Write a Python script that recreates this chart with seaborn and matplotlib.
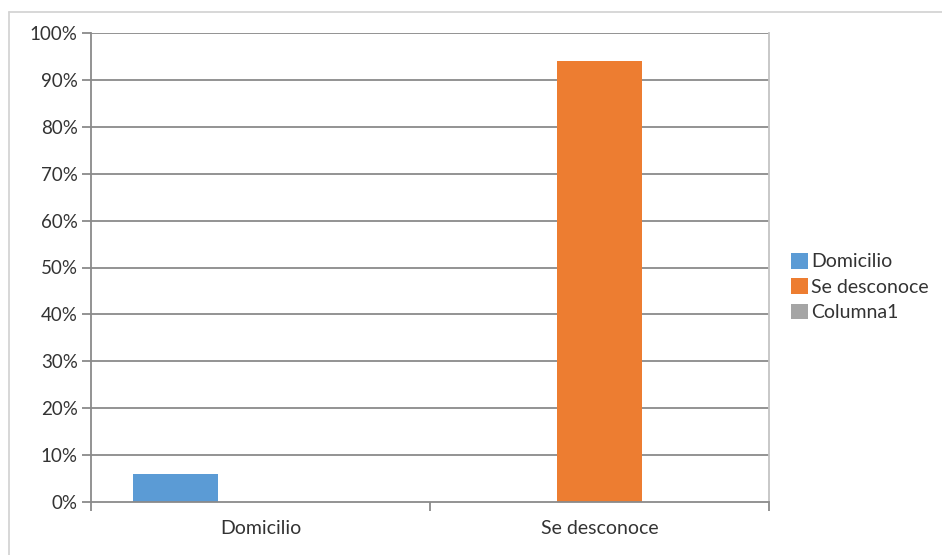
import matplotlib
matplotlib.use("Agg")
import matplotlib.pyplot as plt
from matplotlib.patches import Patch
from matplotlib.lines import Line2D
import seaborn as sns
import pandas as pd

# Chart data
categories = ["Domicilio", "Se desconoce"]
series = ["Domicilio", "Se desconoce", "Columna1"]
domicilio = [6, 0]
se_desconoce = [0, 94]
columna1 = [0, 0]
y_ticks = [0, 10, 20, 30, 40, 50, 60, 70, 80, 90, 100]
colors = ["#5B9BD5", "#ED7D31", "#A5A5A5"]

rows = []
for name, vals in zip(series, [domicilio, se_desconoce, columna1]):
    for cat, v in zip(categories, vals):
        rows.append({"Categoria": cat, "Serie": name, "Valor": v})
df = pd.DataFrame(rows)

sns.set_theme(style="white")
plt.rcParams["font.family"] = ["Lato", "DejaVu Sans"]

fig = plt.figure(figsize=(9.42, 5.55), dpi=100)
ax = fig.add_axes([91 / 942, 1 - 502 / 555, (769 - 91) / 942, (502 - 33) / 555])

sns.barplot(data=df, x="Categoria", y="Valor", hue="Serie",
            order=categories, hue_order=series, palette=colors,
            width=0.752, linewidth=0, saturation=1, ax=ax, legend=False)

ax.set_xlim(-0.5, len(categories) - 0.5)
ax.set_ylim(0, 100)
ax.set_yticks(y_ticks)
ax.set_yticklabels([f"{t}%" for t in y_ticks])
ax.set_xlabel("")
ax.set_ylabel("")

# Horizontal gridlines
for t in y_ticks[1:]:
    ax.axhline(t, color="#8a8a8a", lw=1.3, zorder=0.5)
ax.set_axisbelow(True)

# Spines
ax.spines["top"].set_visible(False)
ax.spines["right"].set_color("#c4c4c4")
ax.spines["right"].set_linewidth(1.3)
ax.spines["left"].set_color("#8a8a8a")
ax.spines["left"].set_linewidth(1.3)
ax.spines["bottom"].set_color("#8a8a8a")
ax.spines["bottom"].set_linewidth(1.3)

# Tick marks: y ticks outward, x ticks at category boundaries
ax.tick_params(axis="y", which="major", length=6.5, width=1.3, color="#8a8a8a",
               pad=3, labelsize=13.5, labelcolor="#333333", left=True)
ax.set_xticks(range(len(categories)))
ax.set_xticklabels(categories)
ax.tick_params(axis="x", which="major", length=0, pad=13, labelsize=14, labelcolor="#333333")
ax.set_xticks([i - 0.5 for i in range(len(categories) + 1)], minor=True)
ax.tick_params(axis="x", which="minor", length=6.5, width=1.3, color="#8a8a8a", bottom=True)

# Legend
handles = [Patch(facecolor=c, edgecolor="none") for c in colors]
fig.legend(handles, series, loc="center left", bbox_to_anchor=(791 / 942, 1 - 287 / 555),
           frameon=False, fontsize=14, handlelength=0.85, handleheight=0.85,
           handletextpad=0.2, labelspacing=0.4, borderaxespad=0, borderpad=0,
           labelcolor="#333333")

# Outer chart frame
fig.add_artist(Line2D([9 / 942, 1], [1 - 12 / 555, 1 - 12 / 555], color="#d4d4d4", lw=1.3,
                      transform=fig.transFigure))
fig.add_artist(Line2D([9 / 942, 9 / 942], [0, 1 - 12 / 555], color="#d4d4d4", lw=1.3,
                      transform=fig.transFigure))

fig.savefig("out.png", dpi=100)
